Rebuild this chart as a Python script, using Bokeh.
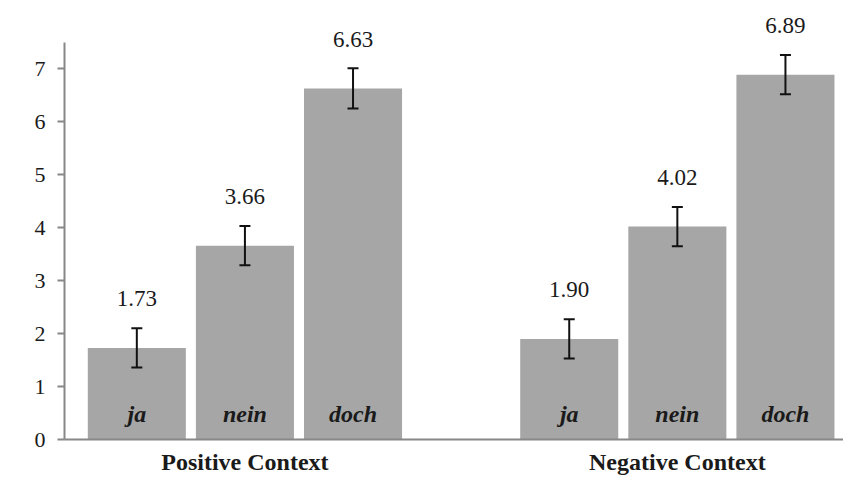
from bokeh.plotting import figure
from bokeh.models import ColumnDataSource, Whisker, TeeHead, FixedTicker, Range1d
from bokeh.core.properties import value
from bokeh.embed import file_html
from bokeh.resources import INLINE

groups = ["Positive Context", "Negative Context"]
answers = ["ja", "nein", "doch"]
means_positive = [1.73, 3.66, 6.63]
means_negative = [1.90, 4.02, 6.89]
err_positive = [0.37, 0.37, 0.38]
err_negative = [0.37, 0.37, 0.37]
y_ticks = [0, 1, 2, 3, 4, 5, 6, 7]
y_axis_max = 7.5

GROUP_STEP = len(answers) + 1
xs, ys, errs, labs = [], [], [], []
for gi, (m, e) in enumerate([(means_positive, err_positive), (means_negative, err_negative)]):
    for ai, a in enumerate(answers):
        xs.append(gi * GROUP_STEP + ai)
        ys.append(m[ai])
        errs.append(e[ai])
        labs.append(a)

src = ColumnDataSource(dict(
    x=xs, y=ys, lab=labs,
    upper=[y + e for y, e in zip(ys, errs)],
    lower=[y - e for y, e in zip(ys, errs)],
    txt=["{:.2f}".format(v) for v in ys],
    zero=[0] * len(ys),
))

p = figure(width=843, height=477, output_backend="svg", toolbar_location=None,
           x_range=Range1d(-0.669, 6.537), y_range=Range1d(0, 8.29))
p.min_border_left = 64
p.min_border_right = 0
p.min_border_top = 0
p.min_border_bottom = 37
p.outline_line_color = None
p.xgrid.visible = False
p.ygrid.visible = False
p.background_fill_color = "white"

p.vbar(x="x", top="y", width=0.907, source=src, fill_color="#a6a6a6", line_color=None)

w = Whisker(source=src, base="x", upper="upper", lower="lower",
            line_color="#111111", line_width=2, level="overlay",
            upper_head=TeeHead(size=11, line_width=2, line_color="#111111"),
            lower_head=TeeHead(size=11, line_width=2, line_color="#111111"))
p.add_layout(w)

serif = value("Liberation Serif")
p.text(x="x", y="y", text="txt", source=src, text_font=serif, text_font_size="23px",
       text_align="center", text_baseline="alphabetic", y_offset=-49, text_color="#1a1a1a")
p.text(x="x", y="zero", text="lab", source=src, text_font=serif, text_font_size="24px",
       text_font_style="bold italic", text_align="center", text_baseline="alphabetic",
       y_offset=-26, text_color="#1a1a1a")

# y axis
ya = p.yaxis[0]
ya.bounds = (0, y_axis_max)
ya.ticker = FixedTicker(ticks=y_ticks)
ya.axis_line_color = "#888888"
ya.axis_line_width = 2
ya.major_tick_line_color = "#888888"
ya.major_tick_line_width = 2
ya.major_tick_out = 7
ya.major_tick_in = 0
ya.minor_tick_line_color = None
ya.major_label_text_font = "Liberation Serif"
ya.major_label_text_font_size = "22px"
ya.major_label_text_color = "#1a1a1a"
ya.major_label_standoff = 12

# x axis: group labels
centers = [gi * GROUP_STEP + (len(answers) - 1) / 2 for gi in range(len(groups))]
xa = p.xaxis[0]
xa.ticker = FixedTicker(ticks=centers)
xa.major_label_overrides = {c: g for c, g in zip(centers, groups)}
xa.axis_line_color = "#888888"
xa.axis_line_width = 2
xa.major_tick_line_color = None
xa.major_tick_out = 0
xa.major_tick_in = 0
xa.minor_tick_line_color = None
xa.minor_tick_out = 0
xa.minor_tick_in = 0
xa.major_label_text_font = "Liberation Serif"
xa.major_label_text_font_style = "bold"
xa.major_label_text_font_size = "24px"
xa.major_label_text_color = "#1a1a1a"
xa.major_label_standoff = 9

open("out.html", "w").write(file_html(p, INLINE))
